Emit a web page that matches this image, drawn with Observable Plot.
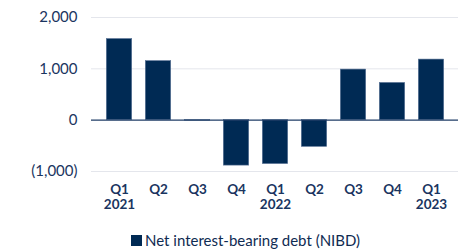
<!DOCTYPE html>
<html>
<head>
<meta charset="utf-8">
<script src="https://cdn.jsdelivr.net/npm/d3@7"></script>
<script src="https://cdn.jsdelivr.net/npm/@observablehq/plot@0.6"></script>
<style>
  body { margin: 0; background: #fff; font-family: Lato, "Open Sans", sans-serif; }
  #chart { width: 464px; }
  .legend { display: flex; align-items: center; margin-left: 131px; margin-top: 13px; color: #0f2b52; font-size: 15px; font-family: Lato, sans-serif; }
  .legend .sw { width: 11px; height: 11px; background: #002a54; margin-right: 3px; }
</style>
</head>
<body>
<div id="chart"></div>
<script>
const quarters = ["Q1", "Q2", "Q3", "Q4", "Q1", "Q2", "Q3", "Q4", "Q1"];
const years = ["2021", "", "", "", "2022", "", "", "", "2023"];
const nibd = [1580, 1150, -10, -885, -855, -520, 985, 725, 1180];
const yTicks = [-1000, 0, 1000, 2000];

const keys = quarters.map((q, i) => `${q}-${i}`);
const data = keys.map((k, i) => ({key: k, value: nibd[i]}));
const labelOf = Object.fromEntries(keys.map((k, i) => [k, years[i] ? `${quarters[i]}\n${years[i]}` : quarters[i]]));

const navy = "#002a54";
const textColor = "#1a3560";

const fmt = v => v === 0 ? "0" : (v < 0 ? `(${d3.format(",")(-v)})` : d3.format(",")(v));

const chart = Plot.plot({
  width: 464,
  height: 218,
  marginTop: 17,
  marginBottom: 47,
  marginLeft: 91,
  marginRight: 6,
  style: {fontFamily: "Lato, sans-serif", color: textColor, background: "#fff"},
  x: {domain: keys, padding: 0.34, label: null},
  y: {domain: [-1000, 2000], label: null},
  marks: [
    Plot.ruleY(yTicks.filter(d => d !== 0), {stroke: "#e4e6ec", strokeWidth: 1}),
    Plot.barY(data, {x: "key", y: "value", fill: navy, stroke: "#5a7396", strokeWidth: 0.6, insetLeft: 0.3, insetRight: 0.3}),
    Plot.ruleY([0], {stroke: "#1f3d66", strokeWidth: 1.2}),
    Plot.axisY({ticks: yTicks, tickFormat: fmt, tickSize: 0, tickPadding: 14, fontSize: 15, fill: textColor, label: null}),
    Plot.axisX({tickFormat: d => labelOf[d], tickSize: 0, tickPadding: 11, fontSize: 13.5, fontWeight: "bold", fill: textColor, label: null, lineHeight: 1.15})
  ]
});
document.getElementById("chart").appendChild(chart);

const legend = document.createElement("div");
legend.className = "legend";
legend.innerHTML = '<span class="sw"></span><span>Net interest-bearing debt (NIBD)</span>';
document.getElementById("chart").appendChild(legend);
</script>
</body>
</html>
